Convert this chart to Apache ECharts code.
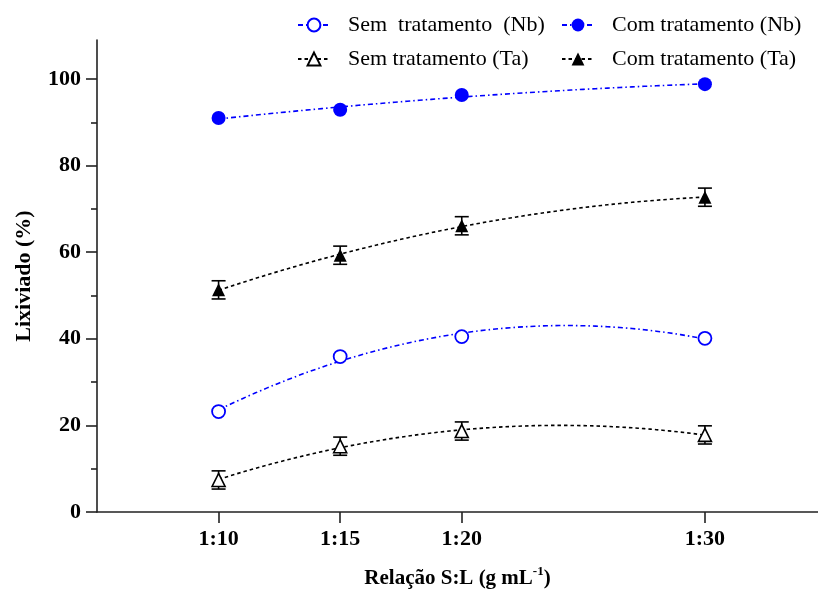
<!DOCTYPE html>
<html>
<head>
<meta charset="utf-8">
<script src="https://cdn.jsdelivr.net/npm/echarts@6/dist/echarts.min.js"></script>
<style>
  html, body { margin: 0; padding: 0; background: #fff; }
  #chart { width: 818px; height: 593px; }
</style>
</head>
<body>
<div id="chart"></div>
<script>
// Solid-to-liquid ratios (1:x) and their tick labels
const ratios = [10, 15, 20, 30];
const ratioLabels = ['1:10', '1:15', '1:20', '1:30'];
const yTicks = [0, 20, 40, 60, 80, 100];

// Leached fraction (%)
const semNb = [23.2, 35.9, 40.5, 40.1];
const comNb = [91.0, 92.9, 96.3, 98.8];
const semTa = [7.4, 15.2, 18.7, 17.8];
const comTa = [51.3, 59.3, 66.1, 72.7];
// Standard deviations (Ta)
const semTaErr = [2.1, 2.1, 2.1, 2.1];
const comTaErr = [2.1, 2.1, 2.1, 2.1];

const names = {
  semNb: 'Sem  tratamento  (Nb)',
  comNb: 'Com tratamento (Nb)',
  semTa: 'Sem tratamento (Ta)',
  comTa: 'Com tratamento (Ta)'
};

const FONT = 'Liberation Serif, Times New Roman, serif';
const BLUE = '#0000ff';

// Second-order least-squares trend through the measured points
function quadFit(xs, ys) {
  const S = [0, 0, 0, 0, 0], T = [0, 0, 0];
  xs.forEach((x, i) => {
    for (let k = 0; k < 5; k++) S[k] += Math.pow(x, k);
    for (let k = 0; k < 3; k++) T[k] += ys[i] * Math.pow(x, k);
  });
  const M = [[S[0], S[1], S[2], T[0]], [S[1], S[2], S[3], T[1]], [S[2], S[3], S[4], T[2]]];
  for (let c = 0; c < 3; c++) {
    for (let r = c + 1; r < 3; r++) {
      const f = M[r][c] / M[c][c];
      for (let k = c; k < 4; k++) M[r][k] -= f * M[c][k];
    }
  }
  const b = [0, 0, 0];
  for (let r = 2; r >= 0; r--) {
    let s = M[r][3];
    for (let k = r + 1; k < 3; k++) s -= M[r][k] * b[k];
    b[r] = s / M[r][r];
  }
  const pts = [];
  const x0 = xs[0], x1 = xs[xs.length - 1];
  for (let x = x0; x <= x1 + 1e-9; x += 0.25) pts.push([x, b[0] + b[1] * x + b[2] * x * x]);
  return pts;
}

function pairs(ys) { return ratios.map((x, i) => [x, ys[i]]); }
function triples(ys, es) { return ratios.map((x, i) => [x, ys[i], es[i]]); }

const nbDash = [5, 3, 1.5, 3];
const taDash = [3.5, 3];

function trend(name, ys, color, dash, symbol, itemStyle) {
  return {
    name: name, type: 'line', data: quadFit(ratios, ys),
    showSymbol: false, symbol: symbol, symbolSize: 13, smooth: false,
    lineStyle: { color: color, width: 1.6, type: dash },
    itemStyle: itemStyle, z: 2, silent: true
  };
}
function points(name, ys, symbol, size, itemStyle) {
  return {
    name: name, type: 'scatter', data: pairs(ys), symbol: symbol,
    symbolSize: size, itemStyle: itemStyle, z: 4, silent: true
  };
}
function errorBars(ys, es) {
  return {
    type: 'custom', name: 'dp', data: triples(ys, es), z: 3, silent: true,
    renderItem: function (params, api) {
      const x = api.value(0), y = api.value(1), e = api.value(2);
      const top = api.coord([x, y + e]);
      const bot = api.coord([x, y - e]);
      const w = 7;
      const st = { stroke: '#000', lineWidth: 1.6 };
      return {
        type: 'group',
        children: [
          { type: 'line', shape: { x1: top[0], y1: top[1], x2: bot[0], y2: bot[1] }, style: st },
          { type: 'line', shape: { x1: top[0] - w, y1: top[1], x2: top[0] + w, y2: top[1] }, style: st },
          { type: 'line', shape: { x1: bot[0] - w, y1: bot[1], x2: bot[0] + w, y2: bot[1] }, style: st }
        ]
      };
    }
  };
}

const openCircle = { color: '#fff', borderColor: BLUE, borderWidth: 1.8, opacity: 1 };
const fullCircle = { color: BLUE, borderColor: BLUE, borderWidth: 0, opacity: 1 };
const openTri = { color: '#fff', borderColor: '#000', borderWidth: 1.6, opacity: 1 };
const fullTri = { color: '#000', borderColor: '#000', borderWidth: 0, opacity: 1 };

function legendAt(name, left, top) {
  return {
    data: [name], left: left, top: top, itemWidth: 32, itemHeight: 16,
    selectedMode: false,
    textStyle: { fontFamily: FONT, fontSize: 22, color: '#000', padding: [0, 0, 0, 13] }
  };
}

const chart = echarts.init(document.getElementById('chart'), null, { renderer: 'canvas' });
chart.setOption({
  backgroundColor: '#fff',
  animation: false,
  legend: [
    legendAt(names.semNb, 292, 9),
    legendAt(names.comNb, 556, 9),
    legendAt(names.semTa, 292, 43),
    legendAt(names.comTa, 556, 43)
  ],
  grid: { left: 97, right: 0, top: 40, bottom: 81, containLabel: false, outerBoundsMode: 'none' },
  xAxis: {
    type: 'value', min: 5, max: 34.65,
    name: '{t|Relação S:L (g mL}{s|-1}{t|)}',
    nameLocation: 'middle', nameGap: 53,
    nameTextStyle: {
      rich: {
        t: { fontFamily: FONT, fontSize: 21, fontWeight: 'bold', color: '#000', lineHeight: 24, verticalAlign: 'bottom' },
        s: { fontFamily: FONT, fontSize: 13, fontWeight: 'bold', color: '#000', lineHeight: 24, verticalAlign: 'top', padding: [0, 0, 10, 0] }
      }
    },
    axisLine: { show: true, onZero: false, lineStyle: { color: '#222', width: 1.6 } },
    axisTick: { show: true, length: 11, lineStyle: { color: '#222', width: 1.6 }, customValues: ratios },
    axisLabel: {
      customValues: ratios, margin: 16,
      fontFamily: FONT, fontSize: 22, fontWeight: 'bold', color: '#000',
      formatter: v => ratioLabels[ratios.indexOf(v)] || ''
    },
    splitLine: { show: false }
  },
  yAxis: {
    type: 'value', min: 0, max: 109, interval: 20,
    name: 'Lixiviado (%)', nameLocation: 'middle', nameGap: 62,
    nameTextStyle: { fontFamily: FONT, fontSize: 22, fontWeight: 'bold', color: '#000' },
    axisLine: { show: true, lineStyle: { color: '#222', width: 1.6 } },
    axisTick: { show: true, length: 11, lineStyle: { color: '#222', width: 1.6 }, customValues: yTicks },
    minorTick: { show: true, splitNumber: 2, length: 6, lineStyle: { color: '#222', width: 1.6 } },
    axisLabel: {
      customValues: yTicks, margin: 16,
      fontFamily: FONT, fontSize: 22, fontWeight: 'bold', color: '#000'
    },
    splitLine: { show: false }
  },
  series: [
    trend(names.semNb, semNb, BLUE, nbDash, 'circle', openCircle),
    trend(names.comNb, comNb, BLUE, nbDash, 'circle', fullCircle),
    trend(names.semTa, semTa, '#000', taDash, 'triangle', openTri),
    trend(names.comTa, comTa, '#000', taDash, 'triangle', fullTri),
    errorBars(semTa, semTaErr),
    errorBars(comTa, comTaErr),
    points(names.semNb, semNb, 'circle', 13, openCircle),
    points(names.comNb, comNb, 'circle', 14, fullCircle),
    points(names.semTa, semTa, 'triangle', 13, openTri),
    points(names.comTa, comTa, 'triangle', 13, fullTri)
  ]
});
</script>
</body>
</html>
